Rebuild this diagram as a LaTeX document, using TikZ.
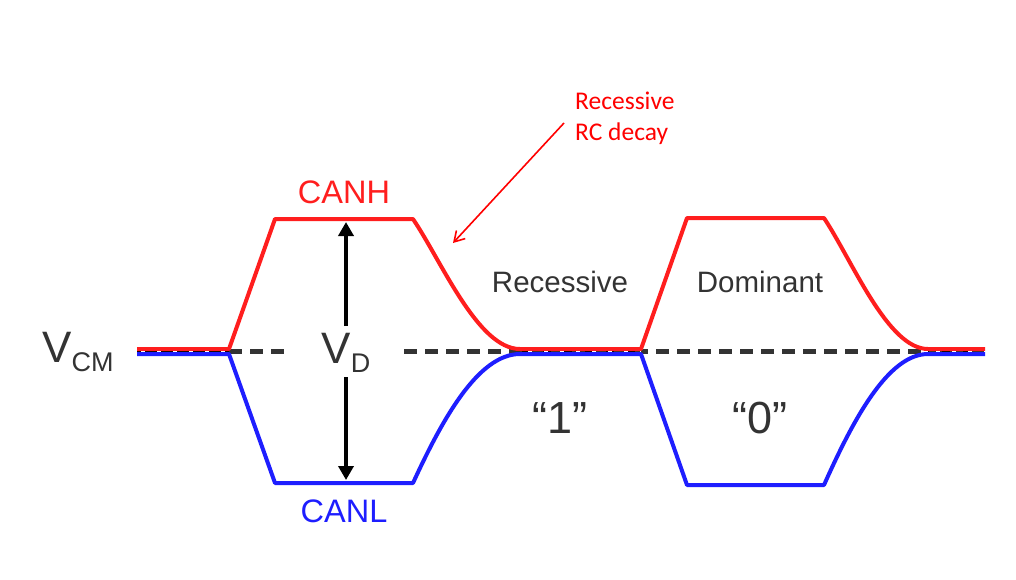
\documentclass[tikz,border=0pt]{standalone}
\usepackage{fontspec}
\setmainfont{Liberation Sans}
\newfontfamily\calib{Carlito}
\usetikzlibrary{arrows.meta}
\definecolor{canred}{RGB}{255,30,30}
\definecolor{canblue}{RGB}{30,30,255}
\definecolor{dgray}{RGB}{51,51,51}
\definecolor{annred}{RGB}{255,0,0}
\begin{document}
\begin{tikzpicture}[x=1pt,y=-1pt,
  hline/.style={canred,line width=4pt,line join=round},
  lline/.style={canblue,line width=4pt,line join=round},
  midline/.style={dgray,line width=4.5pt,dash pattern=on 13pt off 8pt},
  whitedash/.style={white,line width=1.3pt,dash pattern=on 4pt off 12pt},
  blackline/.style={black,line width=2pt},
  lbl/.style={inner sep=0pt,anchor=center},
  vdarrow/.style={black,line width=4pt,-{Triangle[length=14pt,width=15pt]}}]
\useasboundingbox (0,0) rectangle (1016,579);
% coordinates
\coordinate (s) at (137,351.5);
\coordinate (r1) at (229,351.5);
\coordinate (d1) at (520,351.5);
\coordinate (r2) at (641,351.5);
\coordinate (d2) at (928,351.5);
\coordinate (e) at (985,351.5);
% black mid line with white dashes under flat parts
\draw[blackline] (s) -- (r1);
\draw[blackline] (d1) -- (r2);
\draw[blackline] (d2) -- (e);
% dashed VCM line
\draw[midline] (r1) -- (290,351.5);
\draw[midline] (404,351.5) -- (e);
% CANH
\draw[hline] (137,349) -- (229,349) -- (275,219) -- (413,219)
  .. controls (442,262) and (478,349) .. (520,349) -- (641,349)
  -- (687,218) -- (824,218)
  .. controls (853,262) and (888,349) .. (928,349) -- (985,349);
% CANL
\draw[lline] (137,354) -- (229,354) -- (275,483) -- (413,483)
  .. controls (442,420) and (478,354) .. (520,354) -- (641,354)
  -- (687,485) -- (824,485)
  .. controls (853,420) and (888,354) .. (928,354) -- (985,354);
% white dashes on overlapped flat parts
\draw[whitedash] (141,351.5) -- (229,351.5);
\draw[whitedash] (528,351.5) -- (641,351.5);
\draw[whitedash] (936,351.5) -- (985,351.5);
% labels
\node[lbl,canred,font=\fontsize{32.5}{32}\selectfont] (canh) at (344,192) {CANH};
\node[lbl,canblue,font=\fontsize{32.5}{32}\selectfont] (canl) at (344,511) {CANL};
\node[lbl,dgray,font=\fontsize{44}{44}\selectfont] (vcm) at (78,352) {V\raisebox{-0.22em}{\fontsize{27}{27}\selectfont CM}};
\node[lbl,dgray,font=\fontsize{44}{44}\selectfont] (vd) at (346,353) {V\raisebox{-0.22em}{\fontsize{27}{27}\selectfont D}};
\coordinate (vdtop) at (346,222);
\coordinate (vdbot) at (346,480);
\draw[vdarrow] (346,326) -- (vdtop);
\draw[vdarrow] (346,377) -- (vdbot);
\node[lbl,dgray,font=\fontsize{29.5}{29}\selectfont] (rec) at (560,282) {Recessive};
\node[lbl,dgray,font=\fontsize{29.5}{29}\selectfont] (dom) at (760,282) {Dominant};
\node[lbl,dgray,font=\fontsize{45}{44}\selectfont] (one) at (560,418) {“1”};
\node[lbl,dgray,font=\fontsize{45}{44}\selectfont] (zero) at (760,418) {“0”};
\node[inner sep=0pt,anchor=north west,annred,align=left,font=\calib\fontsize{25.5}{31}\selectfont] (ann) at (575,92) {Recessive\\RC decay};
\coordinate (annstart) at (564,123);
\coordinate (anntip) at (453,243);
\draw[annred,line width=1.6pt,-{Straight Barb[length=10pt,width=12pt]}] (annstart) -- (anntip);
\end{tikzpicture}
\end{document}
